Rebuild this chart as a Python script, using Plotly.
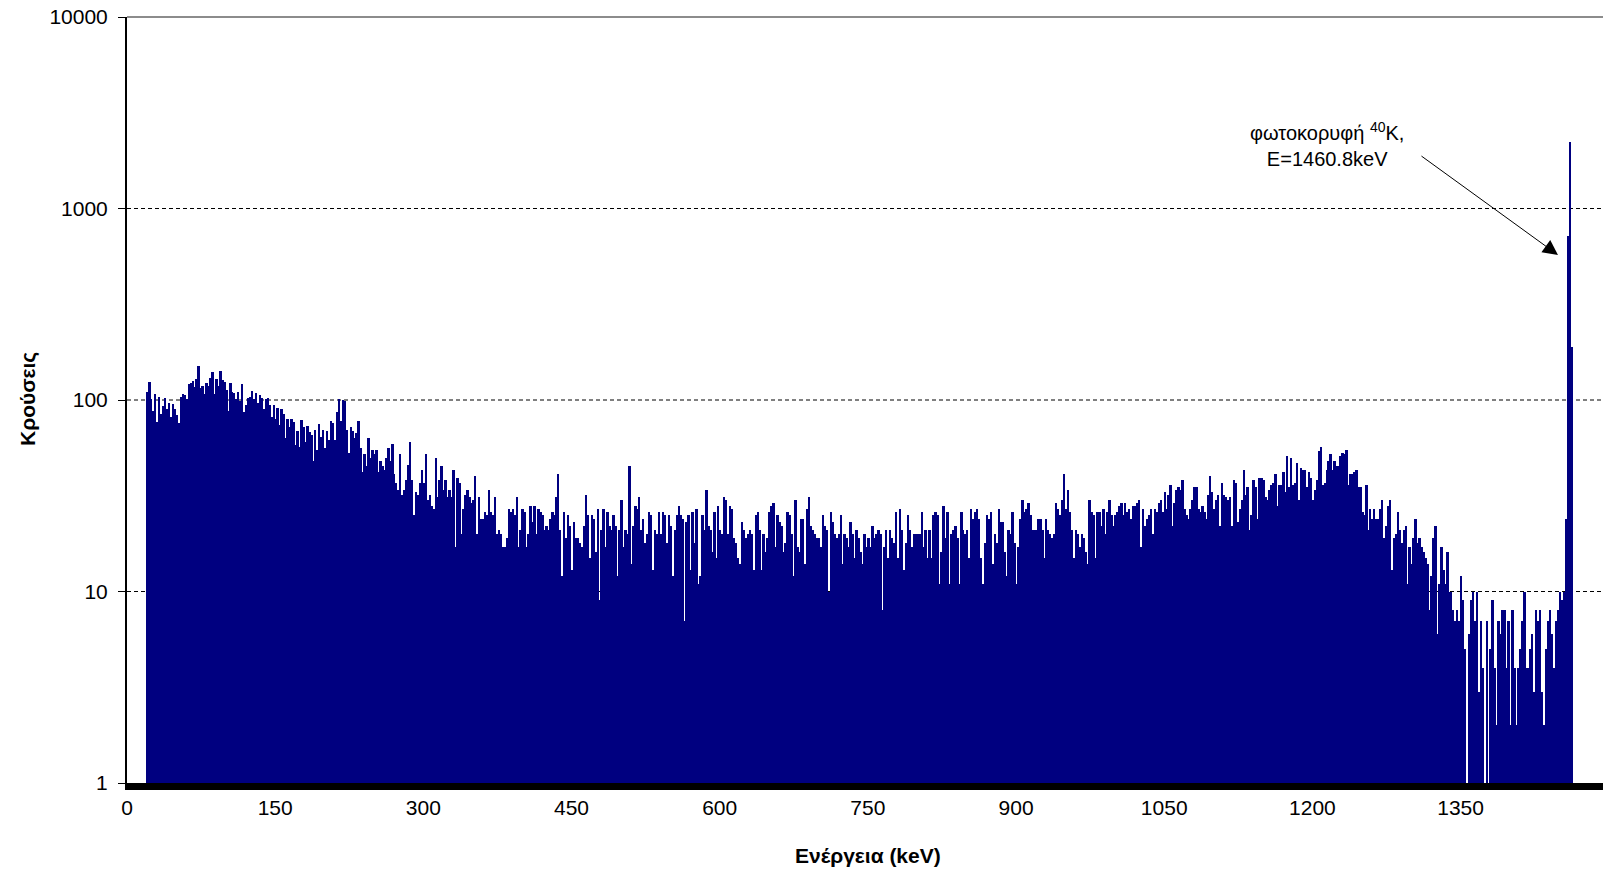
import math
import plotly.graph_objects as go

# Gamma spectrum: counts per 2 keV channel, first channel centred at 20.8 keV
E_START = 20.8
BIN_KEV = 2.0

counts = [
    110, 124, 101, 88, 107, 77, 104, 85, 93, 103,
    90, 96, 82, 95, 90, 84, 76, 104, 107, 106,
    101, 121, 122, 126, 117, 129, 150, 116, 118, 108,
    122, 118, 130, 140, 108, 128, 118, 142, 127, 124,
    113, 88, 122, 110, 109, 101, 110, 99, 121, 87,
    94, 102, 104, 111, 101, 109, 96, 106, 103, 90,
    101, 103, 94, 82, 94, 80, 91, 74, 90, 85,
    63, 80, 72, 80, 77, 58, 69, 57, 79, 72,
    60, 73, 68, 66, 48, 70, 55, 75, 64, 70,
    56, 69, 62, 78, 76, 62, 87, 101, 78, 100,
    99, 70, 53, 72, 69, 63, 67, 78, 56, 42,
    52, 45, 63, 50, 55, 52, 55, 42, 48, 45,
    43, 50, 56, 48, 59, 41, 37, 34, 52, 32,
    34, 38, 46, 60, 38, 25, 33, 32, 37, 43,
    37, 52, 30, 32, 28, 27, 50, 31, 38, 45,
    34, 38, 31, 34, 31, 43, 17, 39, 37, 20,
    27, 32, 34, 31, 29, 30, 40, 20, 31, 24,
    24, 26, 25, 34, 26, 25, 31, 20, 21, 20,
    17, 17, 19, 27, 26, 27, 25, 31, 17, 21,
    27, 26, 17, 20, 28, 23, 28, 20, 27, 26,
    25, 21, 22, 21, 24, 26, 25, 31, 41, 21,
    12, 26, 19, 25, 22, 13, 23, 19, 19, 18,
    17, 22, 32, 25, 15, 25, 24, 16, 27, 9,
    21, 27, 17, 26, 22, 21, 25, 22, 12, 21,
    30, 17, 21, 20, 45, 14, 22, 28, 27, 31,
    21, 24, 18, 20, 26, 25, 13, 21, 20, 26,
    20, 26, 25, 18, 25, 22, 12, 21, 25, 28,
    25, 24, 7, 23, 25, 13, 26, 18, 27, 11,
    12, 25, 21, 34, 22, 21, 16, 26, 15, 28,
    21, 20, 31, 30, 20, 28, 27, 19, 18, 15,
    14, 23, 21, 19, 20, 21, 20, 13, 25, 26,
    21, 13, 20, 16, 19, 26, 28, 29, 17, 25,
    23, 22, 16, 18, 26, 25, 20, 12, 30, 17,
    16, 24, 24, 14, 27, 31, 22, 21, 20, 19,
    19, 17, 25, 22, 21, 10, 26, 23, 20, 19,
    20, 25, 14, 20, 19, 17, 23, 20, 15, 21,
    19, 16, 14, 20, 17, 19, 17, 22, 19, 20,
    21, 20, 8, 17, 21, 15, 21, 19, 18, 26,
    15, 27, 21, 13, 18, 25, 21, 17, 20, 20,
    20, 20, 26, 17, 21, 15, 21, 15, 25, 26,
    25, 11, 16, 28, 19, 26, 11, 20, 21, 22,
    19, 11, 26, 21, 20, 21, 15, 27, 24, 26,
    27, 24, 15, 11, 18, 25, 24, 26, 14, 20,
    18, 27, 23, 23, 16, 12, 21, 20, 26, 18,
    11, 17, 24, 30, 26, 27, 29, 25, 21, 21,
    21, 24, 24, 21, 15, 24, 21, 20, 19, 20,
    29, 27, 25, 30, 41, 27, 34, 26, 21, 15,
    21, 20, 17, 20, 19, 16, 14, 30, 26, 25,
    15, 26, 26, 22, 27, 20, 26, 30, 25, 22,
    25, 26, 28, 29, 25, 29, 26, 27, 24, 28,
    28, 29, 30, 17, 27, 22, 24, 25, 27, 20,
    27, 26, 29, 30, 26, 33, 27, 32, 36, 22,
    29, 34, 35, 34, 38, 27, 25, 24, 27, 30,
    35, 35, 27, 26, 28, 26, 24, 32, 40, 33,
    27, 30, 32, 22, 37, 32, 31, 30, 31, 22,
    38, 37, 23, 27, 30, 43, 32, 35, 21, 25,
    38, 35, 24, 39, 39, 38, 31, 30, 34, 36,
    37, 41, 28, 36, 36, 42, 33, 51, 35, 50,
    36, 37, 47, 30, 44, 43, 43, 35, 42, 39,
    30, 34, 38, 54, 57, 36, 37, 43, 48, 52,
    43, 48, 45, 45, 51, 53, 52, 55, 36, 41,
    41, 42, 43, 35, 35, 26, 25, 36, 21, 27,
    24, 27, 24, 24, 27, 30, 19, 22, 28, 30,
    13, 19, 20, 26, 21, 18, 21, 22, 11, 17,
    14, 19, 24, 18, 19, 17, 16, 15, 14, 8,
    12, 19, 22, 6, 11, 17, 13, 11, 16, 10,
    10, 8, 7, 8, 7, 12, 9, 5, 1, 6,
    9, 10, 7, 10, 3, 7, 4, 1, 7, 1,
    5, 9, 4, 2, 7, 6, 8, 8, 4, 7,
    2, 8, 4, 2, 4, 5, 7, 10, 4, 4,
    5, 6, 3, 8, 7, 8, 3, 2, 5, 7,
    8, 6, 4, 7, 8, 10, 9, 10, 24, 720,
    2225, 190,
]
energy = [round(E_START + BIN_KEV * i, 1) for i in range(len(counts))]

x_ticks = [0, 150, 300, 450, 600, 750, 900, 1050, 1200, 1350]
y_ticks = [1, 10, 100, 1000, 10000]
y_tick_text = ["1", "10", "100", "1000", "10000"]
grid_levels = [10, 100, 1000]

X_RANGE = [0, 1494.2]
Y_DECADES = [0, 4]

FONT = "Liberation Sans, Arial, sans-serif"

fig = go.Figure(
    go.Bar(
        x=energy,
        y=counts,
        width=BIN_KEV,
        marker=dict(color="#000080", line=dict(width=0)),
        hoverinfo="x+y",
    )
)

shapes = []
for lvl in grid_levels:
    yp = (math.log10(lvl) - Y_DECADES[0]) / (Y_DECADES[1] - Y_DECADES[0])
    shapes.append(dict(
        type="line", xref="paper", yref="paper", x0=0, x1=1, y0=yp, y1=yp,
        line=dict(color="black", width=1, dash="4px,3px"), layer="below",
    ))
# plot-area top border
shapes.append(dict(
    type="line", xref="paper", yref="paper", x0=0, x1=1, y0=1, y1=1,
    line=dict(color="#8c8c8c", width=2), layer="above",
))

annotations = [
    dict(
        text="φωτοκορυφή <sup>40</sup>K,<br>E=1460.8keV",
        xref="paper", yref="paper", x=0.813, y=0.834,
        xanchor="center", yanchor="middle", align="center",
        showarrow=False, font=dict(family=FONT, size=20, color="black"),
    ),
    dict(
        text="", xref="paper", yref="paper", x=0.9695, y=0.6893,
        showarrow=True, ax=-138, ay=-100, axref="pixel", ayref="pixel",
        arrowhead=2, arrowsize=3, arrowwidth=1, arrowcolor="black", standoff=0,
    ),
    dict(
        text="<b>Ενέργεια (keV)</b>", xref="paper", yref="paper",
        x=(868 - 127) / 1476, y=-0.094, xanchor="center", yanchor="middle",
        showarrow=False, font=dict(family=FONT, size=21, color="black"),
    ),
    dict(
        text="<b>Κρούσεις</b>", xref="paper", yref="paper",
        x=(28 - 127) / 1476, y=0.5013, xanchor="center", yanchor="middle",
        textangle=-90, showarrow=False,
        font=dict(family=FONT, size=21, color="black"),
    ),
]

fig.update_layout(
    width=1603, height=873,
    margin=dict(l=127, r=0, t=17, b=90),
    paper_bgcolor="white", plot_bgcolor="white",
    bargap=0, showlegend=False,
    font=dict(family=FONT, size=21, color="black"),
    shapes=shapes, annotations=annotations,
    xaxis=dict(
        range=X_RANGE, tickmode="array", tickvals=x_ticks,
        ticktext=[str(v) for v in x_ticks],
        showgrid=False, zeroline=False, ticks="",
        showline=True, linecolor="black", linewidth=7,
        tickfont=dict(family=FONT, size=21, color="black"),
        ticklabelstandoff=0,
    ),
    yaxis=dict(
        type="log", range=Y_DECADES, tickmode="array", tickvals=y_ticks,
        ticktext=y_tick_text, showgrid=False, zeroline=False,
        showline=True, linecolor="black", linewidth=2,
        ticks="outside", ticklen=7, tickwidth=1, tickcolor="black",
        tickfont=dict(family=FONT, size=21, color="black"),
        ticklabelstandoff=6,
    ),
)

fig.write_html("out.html", config={"displayModeBar": False})
